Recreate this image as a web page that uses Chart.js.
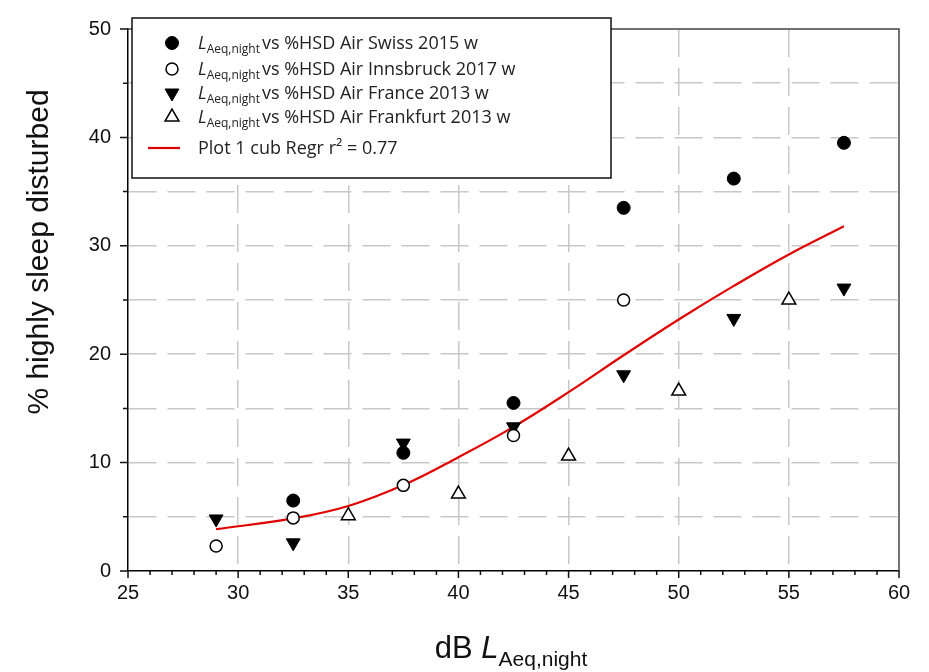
<!DOCTYPE html>
<html>
<head>
<meta charset="utf-8">
<title>% highly sleep disturbed vs LAeq,night</title>
<script src="https://cdn.jsdelivr.net/npm/chart.js@4.4.1/dist/chart.umd.min.js"></script>
<style>
  html, body { margin: 0; padding: 0; background: #fff; }
  #wrap { width: 929px; height: 672px; }
</style>
</head>
<body>
<div id="wrap"><canvas id="hsdChart" width="929" height="672"></canvas></div>
<script>
// values
const swissX = [32.5, 37.5, 42.5, 47.5, 52.5, 57.5];
const swissY = [6.5, 10.9, 15.5, 33.5, 36.2, 39.5];

const innsbruckX = [29, 32.5, 37.5, 42.5, 47.5];
const innsbruckY = [2.3, 4.9, 7.9, 12.5, 25.0];

const franceX = [29, 32.5, 37.5, 42.5, 47.5, 52.5, 57.5];
const franceY = [4.8, 2.6, 11.8, 13.3, 18.1, 23.3, 26.1];

const frankfurtX = [35, 40, 45, 50, 55];
const frankfurtY = [5.1, 7.1, 10.6, 16.6, 25.0];

// fitted cubic regression
const regrX = [29, 32.5, 35, 37.5, 40, 42.5, 45, 47.5, 50, 52.5, 55, 57.5];
const regrY = [3.86, 4.85, 6.0, 7.93, 10.5, 13.3, 16.5, 19.9, 23.2, 26.3, 29.2, 31.8];

const legendNames = [
  "vs %HSD Air Swiss 2015 w",
  "vs %HSD Air Innsbruck 2017 w",
  "vs %HSD Air France 2013 w",
  "vs %HSD Air Frankfurt 2013 w",
  "Plot 1 cub Regr r\u00B2 = 0.77"
];

const xTitle = ["dB ", "L", "Aeq,night"];
const yTitle = "% highly sleep disturbed";

const toPoints = (xs, ys) => xs.map((x, i) => ({ x: x, y: ys[i] }));

const AXIS_FONT = "'Liberation Sans', Arial, sans-serif";
const LEGEND_FONT = "'Open Sans', 'Noto Sans', sans-serif";
const GRID_COLOR = "#c8c8c8";

// extra drawing: frame, tick marks, axis titles, legend box
const decorPlugin = {
  id: "decor",
  afterDraw(chart) {
    const ctx = chart.ctx;
    const area = chart.chartArea;
    const xs = chart.scales.x;
    const ys = chart.scales.y;

    ctx.save();

    // top and right frame
    ctx.strokeStyle = "#444";
    ctx.lineWidth = 1.5;
    ctx.beginPath();
    ctx.moveTo(area.left, area.top);
    ctx.lineTo(area.right, area.top);
    ctx.lineTo(area.right, area.bottom);
    ctx.stroke();

    // tick marks (minor every 1 on x, every 5 on y)
    ctx.strokeStyle = "#111";
    ctx.lineWidth = 1.5;
    ctx.beginPath();
    for (let v = xs.min; v <= xs.max; v++) {
      const px = xs.getPixelForValue(v);
      const len = v % 5 === 0 ? 7 : 4;
      ctx.moveTo(px, area.bottom);
      ctx.lineTo(px, area.bottom + len);
    }
    for (let v = ys.min; v <= ys.max; v += 5) {
      const py = ys.getPixelForValue(v);
      const len = v % 10 === 0 ? 8 : 5;
      ctx.moveTo(area.left, py);
      ctx.lineTo(area.left - len, py);
    }
    ctx.stroke();

    // y title
    ctx.fillStyle = "#111";
    ctx.save();
    ctx.translate(48, 252);
    ctx.rotate(-Math.PI / 2);
    ctx.font = "30px " + AXIS_FONT;
    ctx.textAlign = "center";
    ctx.textBaseline = "alphabetic";
    ctx.fillText(yTitle, 0, 0);
    ctx.restore();

    // x title with italic L and subscript
    const fMain = "31px " + AXIS_FONT;
    const fItal = "italic 31px " + AXIS_FONT;
    const fSub = "21px " + AXIS_FONT;
    ctx.textAlign = "left";
    ctx.textBaseline = "alphabetic";
    ctx.font = fMain; const w0 = ctx.measureText(xTitle[0]).width;
    ctx.font = fItal; const w1 = ctx.measureText(xTitle[1]).width;
    ctx.font = fSub; const w2 = ctx.measureText(xTitle[2]).width;
    let tx = 511 - (w0 + w1 + w2) / 2;
    const tb = 658;
    ctx.font = fMain; ctx.fillText(xTitle[0], tx, tb); tx += w0;
    ctx.font = fItal; ctx.fillText(xTitle[1], tx, tb); tx += w1;
    ctx.font = fSub; ctx.fillText(xTitle[2], tx, tb + 8);

    // legend box
    const box = { l: 132, t: 18, r: 611, b: 178 };
    ctx.fillStyle = "#fff";
    ctx.fillRect(box.l, box.t, box.r - box.l, box.b - box.t);
    ctx.strokeStyle = "#111";
    ctx.lineWidth = 1.5;
    ctx.strokeRect(box.l, box.t, box.r - box.l, box.b - box.t);

    const rowY = [43, 69, 93, 117, 148];
    const markX = 172;
    const textX = 198;
    chart.data.datasets.forEach((ds, i) => {
      const cy = rowY[i];
      if (ds.type === "line") {
        ctx.strokeStyle = ds.borderColor;
        ctx.lineWidth = ds.borderWidth;
        ctx.beginPath();
        ctx.moveTo(148, cy);
        ctx.lineTo(180, cy);
        ctx.stroke();
        ctx.fillStyle = "#222";
        ctx.font = "18px " + LEGEND_FONT;
        ctx.fillText(legendNames[i], textX, cy + 6);
        return;
      }
      ctx.fillStyle = ds.backgroundColor;
      ctx.strokeStyle = ds.borderColor;
      ctx.lineWidth = ds.borderWidth;
      Chart.helpers.drawPoint(ctx, {
        pointStyle: ds.pointStyle,
        rotation: ds.rotation || 0,
        radius: ds.pointRadius,
        borderWidth: ds.borderWidth
      }, markX, cy);

      let lx = textX;
      const base = cy + 6;
      ctx.fillStyle = "#222";
      ctx.font = "italic 18px " + LEGEND_FONT;
      ctx.fillText("L", lx, base);
      lx += ctx.measureText("L").width;
      ctx.font = "12px " + LEGEND_FONT;
      ctx.fillText("Aeq,night", lx, base + 4);
      lx += ctx.measureText("Aeq,night").width + 2;
      ctx.font = "18px " + LEGEND_FONT;
      ctx.fillText(legendNames[i], lx, base);
    });

    ctx.restore();
  }
};

const gridColorX = (c) => {
  const v = c.tick ? c.tick.value : null;
  return v !== null && v % 5 === 0 && v !== 25 && v !== 60 ? GRID_COLOR : "rgba(0,0,0,0)";
};
const gridColorY = (c) => {
  const v = c.tick ? c.tick.value : null;
  return v !== null && v !== 0 && v !== 50 ? GRID_COLOR : "rgba(0,0,0,0)";
};

document.addEventListener("DOMContentLoaded", () => {
  const ctxEl = document.getElementById("hsdChart");
  new Chart(ctxEl, {
    type: "scatter",
    data: {
      datasets: [
        {
          label: legendNames[0],
          data: toPoints(swissX, swissY),
          pointStyle: "circle",
          pointRadius: 6.5,
          backgroundColor: "#000",
          borderColor: "#000",
          borderWidth: 1
        },
        {
          label: legendNames[1],
          data: toPoints(innsbruckX, innsbruckY),
          pointStyle: "circle",
          pointRadius: 6,
          backgroundColor: "#fff",
          borderColor: "#000",
          borderWidth: 1.5
        },
        {
          label: legendNames[2],
          data: toPoints(franceX, franceY),
          pointStyle: "triangle",
          rotation: 180,
          pointRadius: 8,
          backgroundColor: "#000",
          borderColor: "#000",
          borderWidth: 1
        },
        {
          label: legendNames[3],
          data: toPoints(frankfurtX, frankfurtY),
          pointStyle: "triangle",
          pointRadius: 8,
          backgroundColor: "#fff",
          borderColor: "#000",
          borderWidth: 1.5
        },
        {
          type: "line",
          label: legendNames[4],
          data: toPoints(regrX, regrY),
          borderColor: "#e00000",
          borderWidth: 2.2,
          pointRadius: 0,
          fill: false,
          tension: 0.4,
          order: 10
        }
      ]
    },
    options: {
      responsive: false,
      animation: false,
      events: [],
      layout: { padding: { top: 18, right: 30, left: 0, bottom: 0 } },
      plugins: {
        legend: { display: false },
        tooltip: { enabled: false },
        title: { display: false }
      },
      scales: {
        x: {
          type: "linear",
          min: 25,
          max: 60,
          afterFit: (s) => { s.height = 101; },
          ticks: {
            stepSize: 1,
            autoSkip: false,
            maxRotation: 0,
            padding: 10,
            color: "#111",
            font: { family: AXIS_FONT, size: 20 },
            callback: (v) => (v % 5 === 0 ? v : "")
          },
          grid: { color: gridColorX, lineWidth: 1.5, drawTicks: false },
          border: { display: true, color: "#000", width: 1.5, dash: [28, 11] }
        },
        y: {
          type: "linear",
          min: 0,
          max: 50,
          afterFit: (s) => { s.width = 128; },
          ticks: {
            stepSize: 5,
            autoSkip: false,
            padding: 17,
            color: "#111",
            font: { family: AXIS_FONT, size: 20 },
            callback: (v) => (v % 10 === 0 ? v : "")
          },
          grid: { color: gridColorY, lineWidth: 1.5, drawTicks: false },
          border: { display: true, color: "#000", width: 1.5, dash: [28, 11] }
        }
      }
    },
    plugins: [decorPlugin]
  });
});
</script>
</body>
</html>
